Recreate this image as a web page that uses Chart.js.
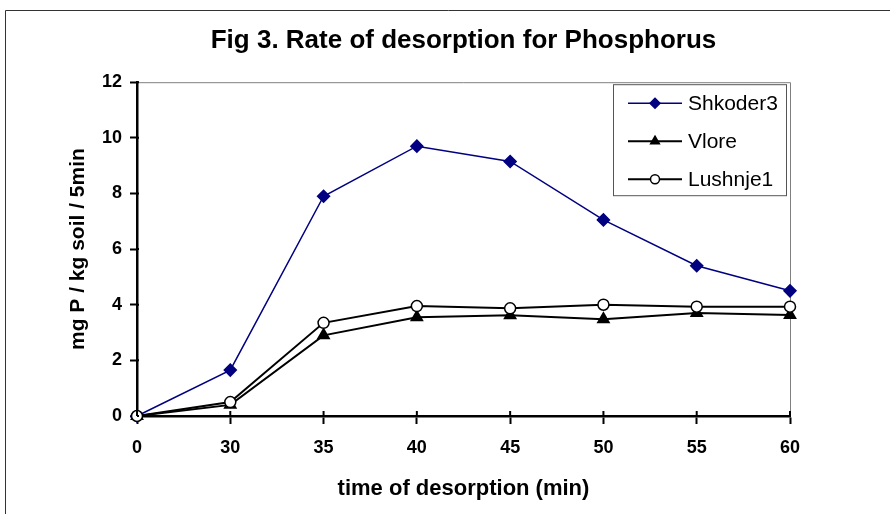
<!DOCTYPE html>
<html lang="en">
<head>
    <meta charset="UTF-8">
    <title>Fig 3. Rate of desorption for Phosphorus</title>
    <script src="https://cdn.jsdelivr.net/npm/chart.js"></script>
    <style>
        body {
            margin: 0;
            background-color: #ffffff;
        }
    </style>
</head>
<body>
    <canvas id="desorptionChart" width="890" height="514"></canvas>

    <script>
        // time of desorption (min)
        const times = ['0', '30', '35', '40', '45', '50', '55', '60'];

        // mg P / kg soil / 5min
        const shkoder3 = [0, 1.65, 7.9, 9.7, 9.15, 7.05, 5.4, 4.5];
        const vlore = [0, 0.4, 2.9, 3.55, 3.62, 3.48, 3.7, 3.63];
        const lushnje1 = [0, 0.5, 3.35, 3.95, 3.87, 4.0, 3.93, 3.93];

        const fontFamily = '"Liberation Sans", Arial, sans-serif';

        // outer frame + grey plot border (top and right)
        const framePlugin = {
            id: 'frame',
            beforeDraw(chart) {
                const ctx = chart.ctx;
                const area = chart.chartArea;
                ctx.save();
                ctx.strokeStyle = '#333333';
                ctx.lineWidth = 1;
                ctx.beginPath();
                ctx.moveTo(5.5, chart.height + 5);
                ctx.lineTo(5.5, 10.5);
                ctx.lineTo(chart.width + 5, 10.5);
                ctx.stroke();

                ctx.strokeStyle = '#808080';
                ctx.beginPath();
                ctx.moveTo(area.left, area.top + 0.5);
                ctx.lineTo(area.right + 0.5, area.top + 0.5);
                ctx.lineTo(area.right + 0.5, area.bottom);
                ctx.stroke();
                ctx.restore();
            },
            afterDraw(chart) {
                // inner half of the tick marks
                const ctx = chart.ctx;
                const xs = chart.scales.x;
                const ys = chart.scales.y;
                ctx.save();
                ctx.strokeStyle = '#000000';
                ctx.lineWidth = 2;
                ctx.beginPath();
                xs.ticks.forEach((t, i) => {
                    const px = xs.getPixelForTick(i);
                    ctx.moveTo(px, ys.bottom);
                    ctx.lineTo(px, ys.bottom - 5);
                });
                ys.ticks.forEach((t, i) => {
                    const py = ys.getPixelForTick(i);
                    ctx.moveTo(xs.left, py);
                    ctx.lineTo(xs.left + 2, py);
                });
                ctx.stroke();
                ctx.restore();
            }
        };

        // legend box with line + marker samples, like the original
        const lineLegendPlugin = {
            id: 'lineLegend',
            afterDraw(chart) {
                const ctx = chart.ctx;
                const area = chart.chartArea;
                const boxW = 173, boxH = 111;
                const bx = area.right - 4 - boxW;
                const by = area.top + 2;
                ctx.save();
                ctx.fillStyle = '#ffffff';
                ctx.fillRect(bx, by, boxW, boxH);
                ctx.strokeStyle = '#555555';
                ctx.lineWidth = 1;
                ctx.strokeRect(bx + 0.5, by + 0.5, boxW, boxH);

                ctx.font = '21px ' + fontFamily;
                ctx.textBaseline = 'middle';
                chart.data.datasets.forEach((ds, i) => {
                    const y = by + 19 + i * 38;
                    const x0 = bx + 15;
                    const x1 = bx + 69;
                    ctx.strokeStyle = ds.borderColor;
                    ctx.lineWidth = ds.borderWidth;
                    ctx.beginPath();
                    ctx.moveTo(x0, y);
                    ctx.lineTo(x1, y);
                    ctx.stroke();
                    ctx.fillStyle = ds.pointBackgroundColor;
                    ctx.strokeStyle = ds.pointBorderColor;
                    ctx.lineWidth = 1.5;
                    Chart.helpers.drawPoint(ctx, {
                        pointStyle: ds.pointStyle,
                        radius: ds.pointRadius - 1,
                        borderWidth: 1.5
                    }, (x0 + x1) / 2, y);
                    ctx.fillStyle = '#000000';
                    ctx.fillText(ds.label, x1 + 6, y + 1);
                });
                ctx.restore();
            }
        };

        const ctx = document.getElementById('desorptionChart').getContext('2d');
        new Chart(ctx, {
            type: 'line',
            data: {
                labels: times,
                datasets: [
                    {
                        label: 'Shkoder3',
                        data: shkoder3,
                        borderColor: '#000080',
                        borderWidth: 1.5,
                        pointStyle: 'rectRot',
                        pointRadius: 6,
                        pointBackgroundColor: '#000080',
                        pointBorderColor: '#000080',
                        order: 2
                    },
                    {
                        label: 'Vlore',
                        data: vlore,
                        borderColor: '#000000',
                        borderWidth: 2,
                        pointStyle: 'triangle',
                        pointRadius: 6,
                        pointBackgroundColor: '#000000',
                        pointBorderColor: '#000000',
                        order: 1
                    },
                    {
                        label: 'Lushnje1',
                        data: lushnje1,
                        borderColor: '#000000',
                        borderWidth: 2,
                        pointStyle: 'circle',
                        pointRadius: 5.5,
                        pointBorderWidth: 1.5,
                        pointBackgroundColor: '#ffffff',
                        pointBorderColor: '#000000',
                        order: 0
                    }
                ]
            },
            options: {
                responsive: false,
                animation: false,
                clip: false,
                layout: { padding: { left: 0, right: 100, top: 0, bottom: 0 } },
                plugins: {
                    legend: { display: false },
                    tooltip: { enabled: false },
                    title: {
                        display: true,
                        fullSize: false,
                        text: 'Fig 3. Rate of desorption for Phosphorus',
                        color: '#000000',
                        font: { family: fontFamily, size: 26, weight: 'bold', lineHeight: 1.2 },
                        padding: { top: 25, bottom: 26 }
                    }
                },
                scales: {
                    x: {
                        offset: false,
                        grid: { drawOnChartArea: false, drawTicks: true, tickLength: 8, tickColor: '#000000', tickWidth: 2 },
                        border: { color: '#000000', width: 2.5 },
                        ticks: { color: '#000000', padding: 13, maxRotation: 0, font: { family: fontFamily, size: 18, weight: 'bold' } },
                        title: {
                            display: true,
                            text: 'time of desorption (min)',
                            color: '#000000',
                            font: { family: fontFamily, size: 22, weight: 'bold', lineHeight: 1.2 },
                            padding: { top: 0, bottom: 12 }
                        },
                        afterFit: s => { s.height = 98; }
                    },
                    y: {
                        min: 0,
                        max: 12,
                        grid: { drawOnChartArea: false, drawTicks: true, tickLength: 7, tickColor: '#000000', tickWidth: 2 },
                        border: { color: '#000000', width: 2.5 },
                        ticks: { stepSize: 2, color: '#000000', padding: 8, font: { family: fontFamily, size: 18, weight: 'bold' } },
                        title: {
                            display: true,
                            text: 'mg P / kg soil / 5min',
                            color: '#000000',
                            font: { family: fontFamily, size: 21, weight: 'bold', lineHeight: 1.2 },
                            padding: { top: 66, bottom: 0 }
                        },
                        afterFit: s => { s.width = 137; }
                    }
                }
            },
            plugins: [framePlugin, lineLegendPlugin]
        });
    </script>
</body>
</html>
